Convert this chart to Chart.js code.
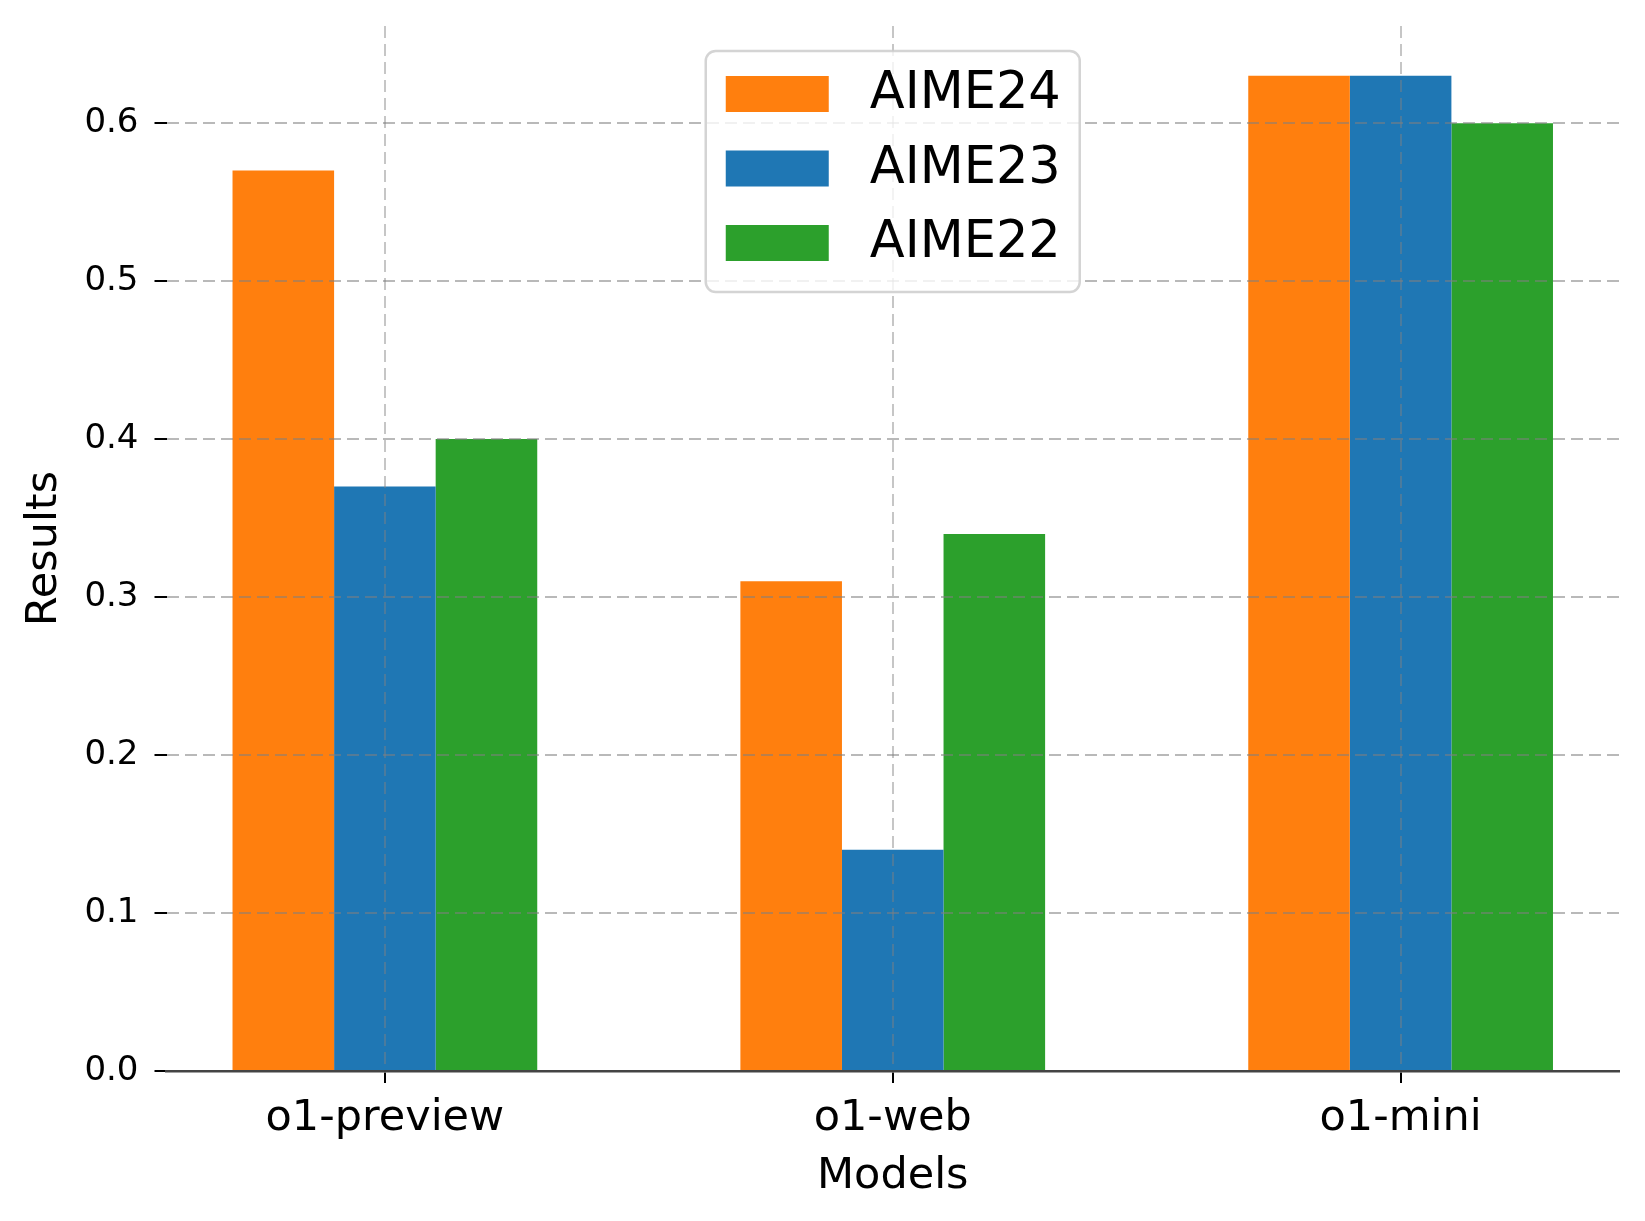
<!DOCTYPE html>
<html>
<head>
<meta charset="utf-8">
<title>AIME results by model</title>
<script src="https://cdn.jsdelivr.net/npm/chart.js@4.4.1/dist/chart.umd.min.js"></script>
<style>
  html, body { margin: 0; padding: 0; background: #ffffff; }
  #wrap { width: 1645px; height: 1221px; }
</style>
</head>
<body>
<div id="wrap"><canvas id="chart" width="1645" height="1221"></canvas></div>
<script>
const models = ['o1-preview', 'o1-web', 'o1-mini'];
const aime24 = [0.57, 0.31, 0.63];
const aime23 = [0.37, 0.14, 0.63];
const aime22 = [0.40, 0.34, 0.60];
const yTicks = [0.0, 0.1, 0.2, 0.3, 0.4, 0.5, 0.6];

const FONT = "'DejaVu Sans', 'Liberation Sans', sans-serif";

function points(values) {
  return values.map((v, i) => ({ x: i, y: v }));
}

// matplotlib style legend, drawn on top of the grid (upper center)
const legendBox = {
  id: 'legendBox',
  afterDraw(chart) {
    const ctx = chart.ctx;
    const area = chart.chartArea;
    const w = 374, h = 241;
    const left = (area.left + area.right) / 2 - w / 2;
    const top = area.top + 25;
    ctx.save();
    ctx.beginPath();
    ctx.roundRect(left, top, w, h, 10);
    ctx.fillStyle = 'rgba(255,255,255,0.8)';
    ctx.fill();
    ctx.lineWidth = 2.5;
    ctx.strokeStyle = 'rgba(204,204,204,0.85)';
    ctx.stroke();
    ctx.font = '51px ' + FONT;
    ctx.textBaseline = 'middle';
    ctx.textAlign = 'left';
    chart.data.datasets.forEach((ds, i) => {
      const cy = top + 43 + i * 74.5;
      ctx.fillStyle = ds.backgroundColor;
      ctx.fillRect(left + 20, cy - 18, 103, 36);
      ctx.fillStyle = '#000000';
      ctx.fillText(ds.label, left + 164, cy + 1);
    });
    ctx.restore();
  }
};

const ctx = document.getElementById('chart').getContext('2d');
new Chart(ctx, {
  type: 'bar',
  data: {
    datasets: [
      { label: 'AIME24', data: points(aime24), backgroundColor: '#ff7f0e' },
      { label: 'AIME23', data: points(aime23), backgroundColor: '#1f77b4' },
      { label: 'AIME22', data: points(aime22), backgroundColor: '#2ca02c' }
    ]
  },
  options: {
    responsive: false,
    devicePixelRatio: 1,
    animation: false,
    categoryPercentage: 0.6,
    barPercentage: 1.0,
    borderWidth: 0,
    layout: {
      padding: { top: 26, right: 26, left: 0, bottom: 0 }
    },
    plugins: {
      legend: { display: false },
      tooltip: { enabled: false }
    },
    scales: {
      x: {
        type: 'linear',
        min: -0.43,
        max: 2.43,
        offset: false,
        afterBuildTicks: function(scale) {
          scale.ticks = models.map((m, i) => ({ value: i }));
        },
        afterFit: function(scale) {
          scale.height = 150;
        },
        ticks: {
          color: '#000000',
          padding: 10,
          maxRotation: 0,
          font: { family: FONT, size: 43 },
          callback: function(value) {
            return models[value];
          }
        },
        grid: {
          offset: false,
          z: 1,
          color: 'rgba(128,128,128,0.45)',
          lineWidth: 2,
          drawTicks: true,
          tickLength: 12,
          tickColor: '#000000',
          tickWidth: 2,
          tickBorderDash: []
        },
        border: {
          display: true,
          z: 2,
          color: '#444444',
          width: 2.5,
          dash: [12, 6]
        },
        title: {
          display: true,
          text: 'Models',
          color: '#000000',
          font: { family: FONT, size: 43 },
          padding: { top: 0, bottom: 18 }
        }
      },
      y: {
        min: 0,
        max: 0.6615,
        afterBuildTicks: function(scale) {
          scale.ticks = yTicks.map(v => ({ value: v }));
        },
        afterFit: function(scale) {
          scale.width = 166.5;
          scale.paddingTop = 0;
          scale.paddingBottom = 0;
        },
        ticks: {
          color: '#000000',
          padding: 16,
          font: { family: FONT, size: 34 },
          callback: function(value) {
            return value.toFixed(1);
          }
        },
        grid: {
          z: 1,
          color: function(c) {
            return c.tick && c.tick.value === 0 ? 'rgba(0,0,0,0)' : 'rgba(128,128,128,0.55)';
          },
          lineWidth: 2,
          drawTicks: true,
          tickLength: 12,
          tickColor: '#000000',
          tickWidth: 2,
          tickBorderDash: []
        },
        border: {
          display: false,
          dash: [12, 6]
        },
        title: {
          display: true,
          text: 'Results',
          color: '#000000',
          font: { family: FONT, size: 43 },
          padding: { top: 19, bottom: 0 }
        }
      }
    }
  },
  plugins: [legendBox]
});
</script>
</body>
</html>
